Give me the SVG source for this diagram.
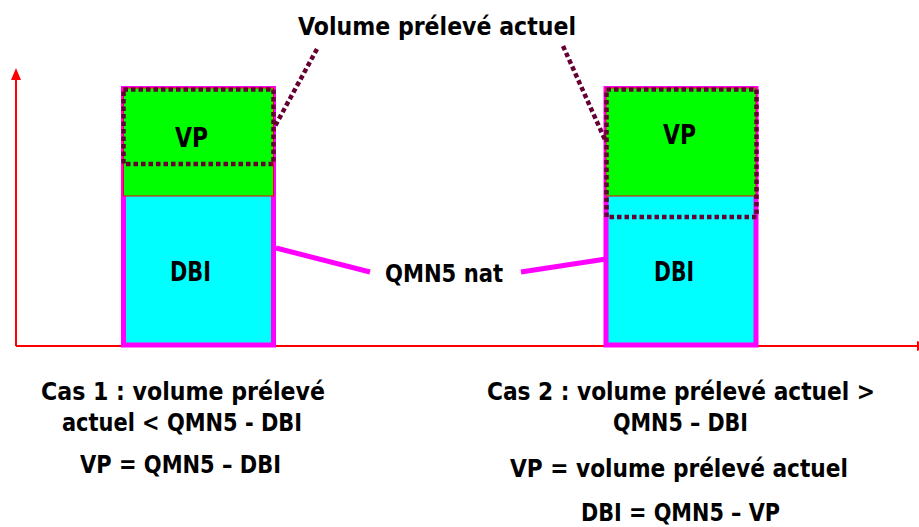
<svg xmlns="http://www.w3.org/2000/svg" width="919" height="527" viewBox="0 0 919 527">
  <style>
    text { font-family: "DejaVu Sans", "Liberation Sans", sans-serif; font-stretch: condensed; font-weight: bold; fill: #000; }
    .t24 { font-size: 24px; }
    .t25 { font-size: 25px; }
    .t26 { font-size: 26px; }
    .axis { stroke: #ff0000; stroke-width: 2; fill: none; }
    .bar { fill: #00ffff; stroke: #ff00ff; stroke-width: 5; }
    .vp { fill: #00ff00; stroke: #ff0000; stroke-width: 1; }
    .dots { fill: none; stroke: #660033; stroke-width: 4.5; stroke-dasharray: 4.5 3; }
    .link { stroke: #ff00ff; stroke-width: 5; fill: none; }
  </style>

  <!-- axes -->
  <g id="axes">
    <line class="axis" x1="16" y1="346" x2="16" y2="78"/>
    <polygon points="16,68 11,80 21,80" fill="#ff0000"/>
    <line class="axis" x1="16" y1="346" x2="919" y2="346"/>
    <polygon points="929,346 917,341 917,351" fill="#ff0000"/>
  </g>

  <!-- case 1 bar -->
  <g id="bar-case1">
    <rect class="bar" x="123.5" y="88.5" width="150" height="256.5"/>
    <rect class="vp" x="123.5" y="88" width="150" height="108"/>
    <rect class="dots" x="123.5" y="89.5" width="150" height="74.5"/>
    <text class="t26" x="175" y="147" textLength="33" lengthAdjust="spacingAndGlyphs">VP</text>
    <text class="t26" x="170" y="281" textLength="41" lengthAdjust="spacingAndGlyphs">DBI</text>
  </g>

  <!-- case 2 bar -->
  <g id="bar-case2">
    <rect class="bar" x="606" y="88.5" width="150" height="256.5"/>
    <rect class="vp" x="606" y="88" width="150" height="108"/>
    <rect class="dots" x="606.5" y="89.5" width="150" height="127.5"/>
    <text class="t26" x="663" y="144" textLength="33" lengthAdjust="spacingAndGlyphs">VP</text>
    <text class="t26" x="654" y="281" textLength="40" lengthAdjust="spacingAndGlyphs">DBI</text>
  </g>

  <!-- connectors -->
  <g id="connectors">
    <line class="dots" x1="317" y1="49" x2="274" y2="128"/>
    <line class="dots" x1="563" y1="46" x2="606" y2="142"/>
    <line class="link" x1="276" y1="248" x2="370" y2="272"/>
    <line class="link" x1="521" y1="272" x2="606" y2="259"/>
  </g>

  <!-- labels -->
  <g id="title">
    <text class="t25" x="298" y="35" textLength="278" lengthAdjust="spacingAndGlyphs">Volume prélevé actuel</text>
  </g>
  <g id="qmn5">
    <text class="t25" x="385" y="281.5" textLength="118" lengthAdjust="spacingAndGlyphs">QMN5 nat</text>
  </g>
  <g id="case1-notes">
    <text class="t24" x="41" y="400" textLength="284" lengthAdjust="spacingAndGlyphs">Cas 1 : volume prélevé</text>
    <text class="t24" x="62" y="431" textLength="240" lengthAdjust="spacingAndGlyphs">actuel &lt; QMN5 - DBI</text>
    <text class="t24" x="80" y="473" textLength="201" lengthAdjust="spacingAndGlyphs">VP = QMN5 – DBI</text>
  </g>
  <g id="case2-notes">
    <text class="t24" x="487" y="400" textLength="388" lengthAdjust="spacingAndGlyphs">Cas 2 : volume prélevé actuel &gt;</text>
    <text class="t24" x="613" y="431" textLength="135" lengthAdjust="spacingAndGlyphs">QMN5 – DBI</text>
    <text class="t24" x="510" y="477" textLength="338" lengthAdjust="spacingAndGlyphs">VP = volume prélevé actuel</text>
    <text class="t24" x="581" y="521" textLength="199" lengthAdjust="spacingAndGlyphs">DBI = QMN5 – VP</text>
  </g>
</svg>
